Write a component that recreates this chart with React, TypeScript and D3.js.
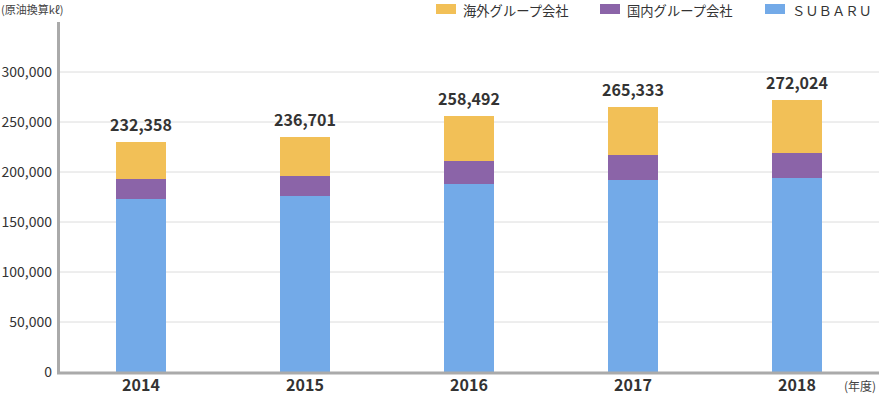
import React from 'react';
import * as d3 from 'd3';

const years = ['2014', '2015', '2016', '2017', '2018'];
const subaru = [173000, 176000, 188000, 192000, 194000];
const domestic = [20000, 20000, 23000, 25000, 25000];
const overseas = [37000, 39000, 45000, 48000, 53000];
const totalLabels = ['232,358', '236,701', '258,492', '265,333', '272,024'];
const yTicks = [0, 50000, 100000, 150000, 200000, 250000, 300000];

const seriesKeys = ['subaru', 'domestic', 'overseas'];
const colors: Record<string, string> = {
  subaru: '#73aae8',
  domestic: '#8b64a8',
  overseas: '#f2c057',
};

const W = 879;
const H = 396;
const FONT = '"Noto Sans CJK JP", "Noto Sans", sans-serif';

const App: React.FC = () => {
  const rows = years.map((y, i) => ({
    year: y,
    subaru: subaru[i],
    domestic: domestic[i],
    overseas: overseas[i],
  }));
  const stacked = d3.stack<any>().keys(seriesKeys)(rows);

  const x = d3.scaleBand().domain(years).range([59, 879]);
  const y = d3.scaleLinear().domain([0, 350000]).range([372, 22]);
  const barW = 50;
  const fmt = d3.format(',');

  const legend = [
    { key: 'overseas', label: '海外グループ会社', x: 436 },
    { key: 'domestic', label: '国内グループ会社', x: 600 },
    { key: 'subaru', label: 'ＳＵＢＡＲＵ', x: 765 },
  ];

  return (
    <svg width={W} height={H} style={{ position: 'absolute', left: 0, top: 0, fontFamily: FONT }}>
      <rect width={W} height={H} fill="#fff" />
      {/* grid */}
      {yTicks.filter(t => t > 0).map(t => (
        <line key={t} x1={60} x2={W} y1={y(t)} y2={y(t)} stroke="#dcdcdc" strokeWidth={1} />
      ))}
      {/* y tick labels */}
      {yTicks.map(t => (
        <text key={t} x={52} y={y(t)} dy="0.36em" textAnchor="end" fontSize={14} fill="#333">
          {fmt(t)}
        </text>
      ))}
      <text x={1} y={14} fontSize={11} fill="#444">(原油換算kℓ)</text>

      {/* bars */}
      {stacked.map(s => (
        <g key={s.key} fill={colors[s.key]}>
          {s.map((d, i) => (
            <rect
              key={i}
              x={x(years[i])! + x.bandwidth() / 2 - barW / 2}
              y={y(d[1])}
              width={barW}
              height={y(d[0]) - y(d[1])}
            />
          ))}
        </g>
      ))}

      {/* total labels */}
      {years.map((yr, i) => (
        <text
          key={yr}
          x={x(yr)! + x.bandwidth() / 2}
          y={y(stacked[2][i][1]) - 11}
          textAnchor="middle"
          fontSize={16}
          fontWeight="bold"
          fill="#333"
        >
          {totalLabels[i]}
        </text>
      ))}

      {/* axes */}
      <line x1={58.5} x2={58.5} y1={22} y2={374} stroke="#aaa" strokeWidth={3} />
      <line x1={57} x2={W} y1={373} y2={373} stroke="#aaa" strokeWidth={3} />

      {/* x labels */}
      {years.map(yr => (
        <text
          key={yr}
          x={x(yr)! + x.bandwidth() / 2}
          y={391}
          textAnchor="middle"
          fontSize={16}
          fontWeight="bold"
          fill="#333"
        >
          {yr}
        </text>
      ))}
      <text x={876} y={391} textAnchor="end" fontSize={12} fill="#444">(年度)</text>

      {/* legend */}
      {legend.map(l => (
        <g key={l.key}>
          <rect x={l.x} y={4} width={20} height={10} fill={colors[l.key]} />
          <text x={l.x + 27} y={15.5} fontSize={13.3} fill="#333">{l.label}</text>
        </g>
      ))}
    </svg>
  );
};

export default App;
